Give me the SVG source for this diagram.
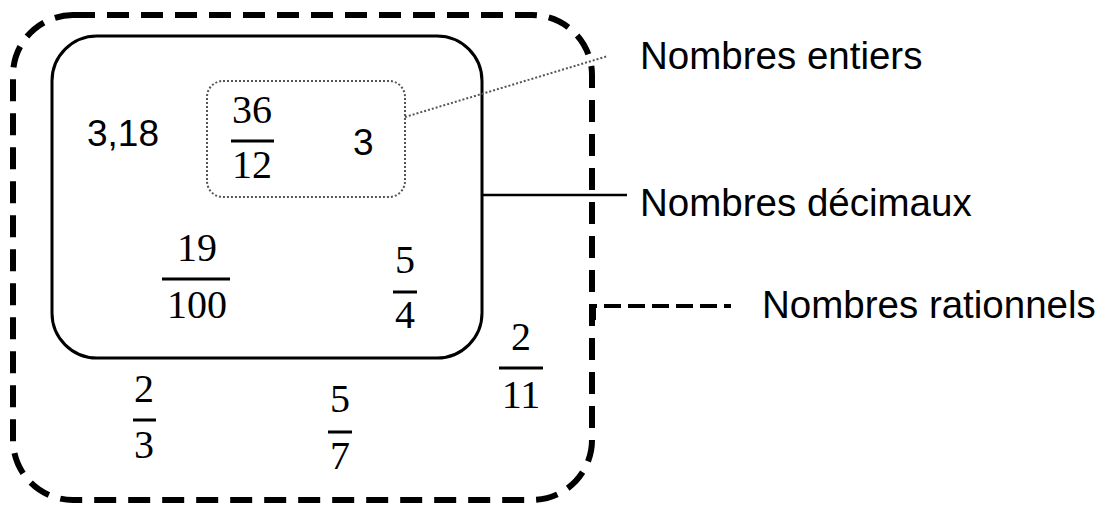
<svg xmlns="http://www.w3.org/2000/svg" width="1105" height="514" viewBox="0 0 1105 514">
<style>
.lbl{font-family:"Liberation Sans",Arial,sans-serif;font-size:38.5px;fill:#000}
.num{font-family:"Liberation Serif","Times New Roman",serif;font-size:40px;fill:#000;text-anchor:middle}
.dec{font-family:"Liberation Sans",Arial,sans-serif;font-size:37px;fill:#000}
.bar{stroke:#000;stroke-width:3}
</style>
<rect width="1105" height="514" fill="#fff"/>
<g id="rationnels">
<rect x="13" y="15" width="579" height="485" rx="60" ry="60" fill="none" stroke="#000" stroke-width="6" stroke-dasharray="22,12"/>
</g>
<g id="decimaux">
<rect x="52" y="36" width="430" height="322" rx="45" ry="45" fill="none" stroke="#000" stroke-width="3"/>
</g>
<g id="entiers">
<rect x="207" y="81" width="198" height="116" rx="16" ry="16" fill="none" stroke="#555" stroke-width="2" stroke-dasharray="2,2"/>
</g>
<g id="connectors">
<line x1="405" y1="117" x2="608" y2="56" stroke="#555" stroke-width="2" stroke-dasharray="2,2"/>
<line x1="482" y1="195" x2="627" y2="195" stroke="#000" stroke-width="2.5"/>
<path d="M594 320 V306 H731" fill="none" stroke="#000" stroke-width="4" stroke-dasharray="17,7"/>
</g>
<g id="labels">
<text class="lbl" x="640" y="69">Nombres entiers</text>
<text class="lbl" x="640" y="216">Nombres décimaux</text>
<text class="lbl" x="762" y="318">Nombres rationnels</text>
</g>
<g id="numbers">
<text class="dec" x="87" y="146">3,18</text>
<text class="dec" x="353" y="155">3</text>
<text class="num" x="252" y="123">36</text>
<line class="bar" x1="231" y1="141" x2="274" y2="141"/>
<text class="num" x="252" y="178">12</text>
<text class="num" x="197" y="261">19</text>
<line class="bar" x1="162" y1="279" x2="230" y2="279"/>
<text class="num" x="197" y="318">100</text>
<text class="num" x="405" y="273">5</text>
<line class="bar" x1="393" y1="292" x2="417" y2="292"/>
<text class="num" x="405" y="328">4</text>
<text class="num" x="521" y="350">2</text>
<line class="bar" x1="499" y1="368" x2="543" y2="368"/>
<text class="num" x="521" y="408">11</text>
<text class="num" x="144" y="402">2</text>
<line class="bar" x1="133" y1="420" x2="156" y2="420"/>
<text class="num" x="144" y="458">3</text>
<text class="num" x="340" y="412">5</text>
<line class="bar" x1="328" y1="432" x2="352" y2="432"/>
<text class="num" x="340" y="469">7</text>
</g>
</svg>
